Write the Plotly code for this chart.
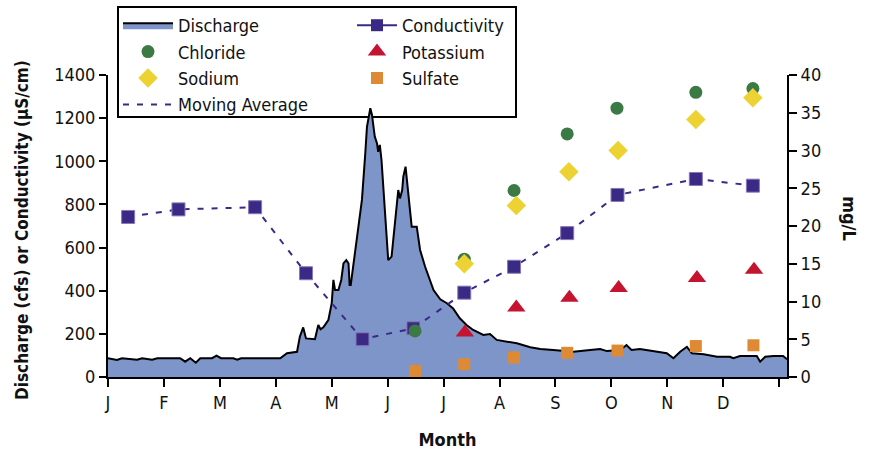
import plotly.graph_objects as go

# ---------------- data ----------------
month_labels = ["J", "F", "M", "A", "M", "J", "J", "A", "S", "O", "N", "D", ""]
month_ticks = list(range(13))

# Discharge (cfs), x in fractional months from Jan 1
dis_x = [0, 0.16, 0.25, 0.52, 0.61, 0.79, 0.88, 1.29, 1.38, 1.47, 1.57, 1.65, 1.86, 1.94, 2.02,
         2.24, 2.31, 2.38, 3.08, 3.20, 3.38, 3.43, 3.49, 3.54, 3.70, 3.76, 3.80, 3.85, 3.94, 4.00,
         4.03, 4.06, 4.12, 4.17, 4.21, 4.26, 4.30, 4.32, 4.34, 4.39, 4.46, 4.54, 4.60, 4.63, 4.69,
         4.72, 4.77, 4.81, 4.83, 4.86, 4.89, 4.95, 5.01, 5.07, 5.11, 5.16, 5.19, 5.22, 5.26, 5.28,
         5.32, 5.36, 5.40, 5.43, 5.52, 5.58, 5.67, 5.82, 5.94, 6.06, 6.17, 6.29, 6.41, 6.53, 6.71,
         6.83, 6.95, 7.13, 7.31, 7.55, 7.73, 7.96, 8.32, 8.62, 8.80, 8.92, 9.16, 9.27, 9.36, 9.51,
         9.75, 9.99, 10.11, 10.23, 10.35, 10.44, 10.65, 10.89, 11.12, 11.18, 11.30, 11.60, 11.66,
         11.75, 11.90, 12.07, 12.14]
dis_y = [87, 79, 87, 80, 87, 80, 87, 87, 71, 87, 66, 87, 87, 99, 87,
         87, 80, 87, 87, 110, 117, 187, 230, 179, 175, 241, 221, 230, 264, 342,
         450, 403, 403, 450, 527, 542, 527, 427, 427, 527, 666, 821, 1037, 1160, 1246,
         1215, 1114, 1083, 1044, 1076, 1006, 790, 542, 558, 650, 790, 867, 828, 867, 929,
         975, 867, 759, 697, 697, 589, 511, 403, 360, 342, 318, 272, 241, 218, 195,
         199, 172, 164, 156, 138, 130, 125, 117, 125, 130, 120, 125, 148, 125, 130,
         120, 110, 87, 117, 140, 110, 105, 94, 94, 87, 97, 97, 71,
         94, 97, 97, 82]

# Conductivity (uS/cm)
cond_x = [0.36, 1.26, 2.63, 3.54, 4.55, 5.46, 6.37, 7.26, 8.21, 9.11, 10.51, 11.53]
cond_y = [742, 777, 787, 481, 175, 226, 391, 511, 667, 844, 918, 887]

# Moving average of conductivity (uS/cm)
ma_x = [0.36, 1.26, 2.63, 3.54, 4.55, 5.46, 6.37, 7.26, 8.21, 9.11, 10.51, 11.53]
ma_y = [742, 777, 787, 481, 175, 226, 391, 511, 667, 844, 918, 887]

# Ions (mg/L)
cl_x = [5.49, 6.37, 7.26, 8.21, 9.10, 10.51, 11.53]
cl_y = [6.1, 15.6, 24.7, 32.2, 35.6, 37.7, 38.2]

na_x = [6.37, 7.30, 8.24, 9.12, 10.51, 11.53]
na_y = [15.0, 22.7, 27.2, 30.0, 34.1, 37.0]

k_x = [6.38, 7.30, 8.25, 9.13, 10.53, 11.55]
k_y = [5.9, 9.2, 10.5, 11.8, 13.1, 14.2]

so4_x = [5.49, 6.37, 7.26, 8.21, 9.11, 10.51, 11.54]
so4_y = [0.8, 1.7, 2.6, 3.2, 3.5, 4.1, 4.2]

# ---------------- style ----------------
FONT = "DejaVu Sans Condensed, Liberation Sans Narrow, Roboto, sans-serif"
PURPLE = "#3b2a85"
BLUE_FILL = "#7d95c8"
GREEN = "#3c7a45"
YELLOW = "#ecd232"
RED = "#c4142f"
ORANGE = "#de8a35"

fig = go.Figure()

fig.add_trace(go.Scatter(
    x=dis_x, y=dis_y, name="Discharge", mode="lines", fill="tozeroy",
    fillcolor=BLUE_FILL, line=dict(color="black", width=2),
    legend="legend", legendrank=1))

fig.add_trace(go.Scatter(
    x=ma_x, y=ma_y, name="Moving Average", mode="lines",
    line=dict(color=PURPLE, width=2, dash="6px,8px"),
    legend="legend", legendrank=4))

fig.add_trace(go.Scatter(
    x=cond_x, y=cond_y, name="Conductivity", mode="markers",
    marker=dict(symbol="square", size=13, color=PURPLE,
                line=dict(color="#8878b8", width=1)),
    showlegend=False))

fig.add_trace(go.Scatter(
    x=[None], y=[None], name="Conductivity", mode="lines+markers",
    line=dict(color=PURPLE, width=2),
    marker=dict(symbol="square", size=12, color=PURPLE),
    legend="legend2", legendrank=1))

fig.add_trace(go.Scatter(
    x=cl_x, y=cl_y, name="Chloride", mode="markers", yaxis="y2",
    marker=dict(symbol="circle", size=13, color=GREEN),
    legend="legend", legendrank=2))

fig.add_trace(go.Scatter(
    x=na_x, y=na_y, name="Sodium", mode="markers", yaxis="y2",
    marker=dict(symbol="diamond", size=15, color=YELLOW),
    legend="legend", legendrank=3))

fig.add_trace(go.Scatter(
    x=k_x, y=k_y, name="Potassium", mode="markers", yaxis="y2",
    marker=dict(symbol="triangle-up", size=16, color=RED),
    legend="legend2", legendrank=2))

fig.add_trace(go.Scatter(
    x=so4_x, y=so4_y, name="Sulfate", mode="markers", yaxis="y2",
    marker=dict(symbol="square", size=12, color=ORANGE),
    legend="legend2", legendrank=3))

fig.update_layout(
    width=869, height=457,
    margin=dict(l=108, r=82, t=75, b=80, autoexpand=False),
    paper_bgcolor="white", plot_bgcolor="rgba(0,0,0,0)",
    font=dict(family=FONT, size=18, color="#111"),
    xaxis=dict(range=[0, 12.14], tickvals=month_ticks, ticktext=month_labels,
               showgrid=False, zeroline=False, showline=True, linecolor="black",
               linewidth=2, ticks="outside", ticklen=8, tickwidth=2,
               tickcolor="black", tickfont=dict(size=18), tickangle=0,
               title=dict(text="<b>Month</b>", font=dict(size=18), standoff=22)),
    yaxis=dict(range=[0, 1400], dtick=200, showgrid=False, zeroline=False,
               showline=True, linecolor="black", linewidth=2, ticks="outside",
               ticklen=7, tickwidth=2, tickcolor="black", tickfont=dict(size=18)),
    yaxis2=dict(range=[0, 40], dtick=5, overlaying="y", side="right",
                showgrid=False, zeroline=False, showline=True, linecolor="black",
                linewidth=2, ticks="outside", ticklen=8, tickwidth=2,
                tickcolor="black", tickfont=dict(size=18)),
    legend=dict(xref="container", yref="container", x=118 / 869, y=1 - 7 / 457,
                xanchor="left", yanchor="top", bgcolor="rgba(0,0,0,0)",
                font=dict(size=18), tracegroupgap=0, itemwidth=50),
    legend2=dict(xref="container", yref="container", x=352 / 869, y=1 - 7 / 457,
                 xanchor="left", yanchor="top", bgcolor="rgba(0,0,0,0)",
                 font=dict(size=18), tracegroupgap=0, itemwidth=40),
    shapes=[dict(type="rect", xref="paper", yref="paper",
                 x0=(118 - 108) / 679, x1=(516 - 108) / 679,
                 y0=(377 - 117) / 302, y1=(377 - 7) / 302,
                 line=dict(color="black", width=2), fillcolor="white",
                 layer="below")],
    annotations=[
        dict(text="<b>mg/L</b>", xref="paper", yref="paper",
             x=1.0 + 63 / 679, y=0.526, xanchor="center", yanchor="middle",
             textangle=90, showarrow=False, font=dict(size=18)),
        dict(text="<b>Discharge (cfs) or Conductivity (µS/cm)</b>",
             xref="paper", yref="paper", x=(22 - 108) / 679, y=0.487,
             xanchor="center", yanchor="middle", textangle=-90,
             showarrow=False, font=dict(size=17)),
    ],
)

fig.write_html("out.html")
